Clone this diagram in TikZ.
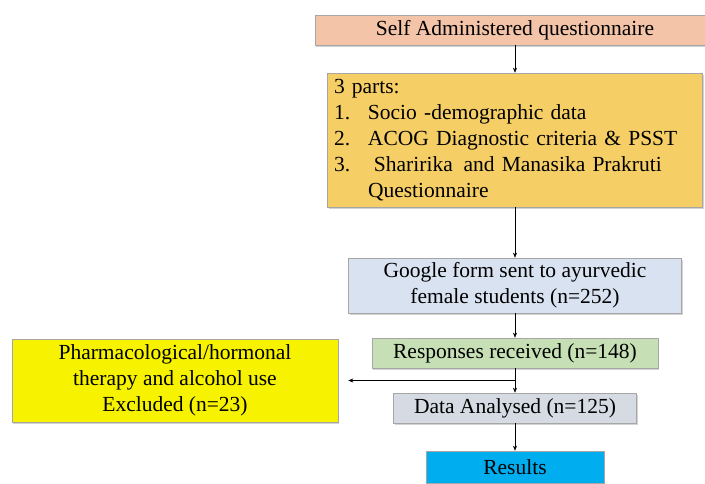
\documentclass[tikz,border=0pt]{standalone}
\usepackage{fontspec}
\setmainfont{Liberation Serif}
\usetikzlibrary{arrows.meta, positioning, shadows}

\definecolor{salmon}{HTML}{F3C4A8}
\definecolor{gold}{HTML}{F5CF66}
\definecolor{formblue}{HTML}{D9E2F0}
\definecolor{respgreen}{HTML}{C6DFB5}
\definecolor{datagrey}{HTML}{D5DAE3}
\definecolor{resultblue}{HTML}{00AEEF}
\definecolor{exclyellow}{HTML}{F7F300}

\newcommand{\partnum}[1]{\makebox[34pt][l]{#1}}

\begin{document}
\begin{tikzpicture}[x=1pt, y=1pt, >={Stealth[length=5pt, width=4pt]}, ->, draw=black, font=\fontsize{21.5}{26}\selectfont]
    \tikzstyle{stage}=[draw=black!35, line width=0.6pt, rectangle, inner sep=0pt, align=center,
                       drop shadow={shadow xshift=1pt, shadow yshift=-2pt, opacity=0.35}]
    \tikzstyle{every edge}=[draw, black, thin]

    \useasboundingbox (0,0) rectangle (705,484);

    % Draw the main column of stages
    \node[stage, fill=salmon, minimum width=400pt, minimum height=30pt] (self) at (515,454) {Self Administered questionnaire};
    \node[stage, fill=gold, minimum width=375pt, minimum height=134pt, text width=362pt, align=left] (parts) at (515,344) {%
        3 parts:\\
        \partnum{1.}Socio -demographic data\\
        \partnum{2.}ACOG Diagnostic criteria \& PSST\\
        \partnum{3.}\hspace{6pt}Sharirika\enspace and Manasika Prakruti\\
        \hspace*{34pt}Questionnaire};
    \node[stage, fill=formblue, minimum width=333pt, minimum height=55pt] (form) at (515,198.5) {Google form sent to ayurvedic\\female students (n=252)};
    \node[stage, fill=respgreen, minimum width=286pt, minimum height=30pt] (resp) at (515,131) {Responses received (n=148)};
    \node[stage, fill=datagrey, minimum width=243pt, minimum height=30pt] (data) at (515,76) {Data Analysed (n=125)};
    \node[stage, fill=resultblue, minimum width=178pt, minimum height=32pt] (results) at (515,17) {Results};

    % Draw the excluded box
    \node[stage, fill=exclyellow, minimum width=326pt, minimum height=83pt] (excl) at (175,103.5) {Pharmacological/hormonal\\therapy and alcohol use\\Excluded (n=23)};

    % Connect the stages one below the other
    \foreach \source/\dest in {self/parts, parts/form, form/resp, resp/data, data/results}
    \path (\source) edge (\dest);

    % Branch off to the excluded box
    \coordinate (split) at (515,103.5);
    \path (split) edge[shorten >=10pt] (excl);
\end{tikzpicture}
\end{document}
